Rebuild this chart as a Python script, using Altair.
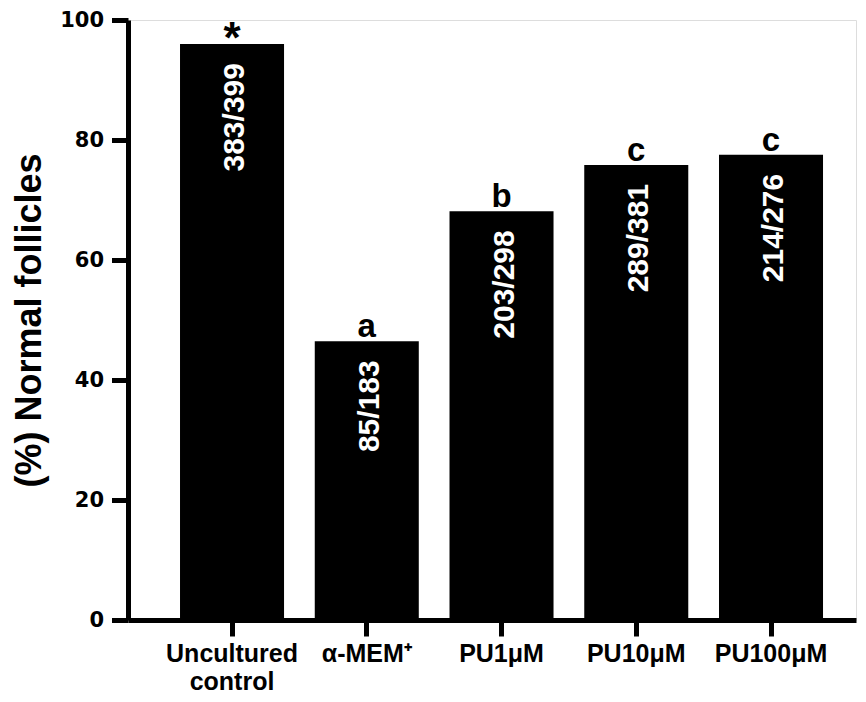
import altair as alt
import pandas as pd

categories = ["Uncultured control", "α-MEM⁺", "PU1μM", "PU10μM", "PU100μM"]
values = [95.99, 46.45, 68.12, 75.85, 77.54]
counts = ["383/399", "85/183", "203/298", "289/381", "214/276"]
letters = ["*", "a", "b", "c", "c"]

df = pd.DataFrame({"cat": categories, "val": values, "cnt": counts, "let": letters})

ARIAL = "Liberation Sans, Arial, sans-serif"

x = alt.X(
    "cat:N",
    sort=categories,
    title=None,
    scale=alt.Scale(paddingInner=0.228, paddingOuter=0.3154, align=0.612),
    axis=alt.Axis(
        labelAngle=0,
        labelFont=ARIAL,
        labelFontSize=25,
        labelFontWeight="bold",
        labelColor="black",
        labelPadding=5,
        labelLineHeight=28,
        labelBaseline="top",
        labelExpr="datum.value == 'Uncultured control' ? ['Uncultured', 'control'] : datum.label",
        domainColor="black",
        domainWidth=5,
        tickColor="black",
        tickWidth=5,
        tickSize=16,
        labelOverlap=False,
    ),
)

y = alt.Y(
    "val:Q",
    scale=alt.Scale(domain=[0, 100], nice=False),
    title="(%) Normal follicles",
    axis=alt.Axis(
        values=[0, 20, 40, 60, 80, 100],
        grid=False,
        labelFont="DejaVu Sans",
        labelFontSize=21,
        labelFontWeight="bold",
        labelColor="black",
        labelPadding=8,
        domainColor="black",
        domainWidth=5,
        tickColor="black",
        tickWidth=5,
        tickSize=16.5,
        titleFont=ARIAL,
        titleFontSize=36,
        titleFontWeight="bold",
        titleColor="black",
        titleX=-88,
        titleY=300,
        titleAlign="center",
        titleBaseline="alphabetic",
        titleAngle=270,
    ),
)

bars = alt.Chart(df).mark_bar(color="black").encode(x=x, y=y)

inner = alt.Chart(df).mark_text(
    angle=270, align="right", baseline="middle", dx=-19, dy=3,
    font=ARIAL, fontSize=30, fontWeight="bold", color="white",
).encode(x=alt.X("cat:N", sort=categories), y="val:Q", text="cnt:N")

marks = alt.Chart(df).transform_filter("datum.let != '*'").mark_text(
    align="center", baseline="alphabetic", dy=-4,
    font=ARIAL, fontSize=33, fontWeight="bold", color="black",
).encode(x=alt.X("cat:N", sort=categories), y="val:Q", text="let:N")

star = alt.Chart(df).transform_filter("datum.let == '*'").mark_text(
    align="center", baseline="alphabetic", dy=9,
    font=ARIAL, fontSize=44, fontWeight="bold", color="black",
).encode(x=alt.X("cat:N", sort=categories), y="val:Q", text="let:N")

chart = (
    alt.layer(bars, inner, marks, star)
    .properties(
        width=728,
        height=600,
        autosize=alt.AutoSizeParams(type="none"),
        padding={"left": 120, "top": 12, "right": 2, "bottom": 74},
    )
    .configure_view(strokeWidth=0)
    .configure(background="white")
)

chart.save("out.html", embed_options={"renderer": "svg", "actions": False})
